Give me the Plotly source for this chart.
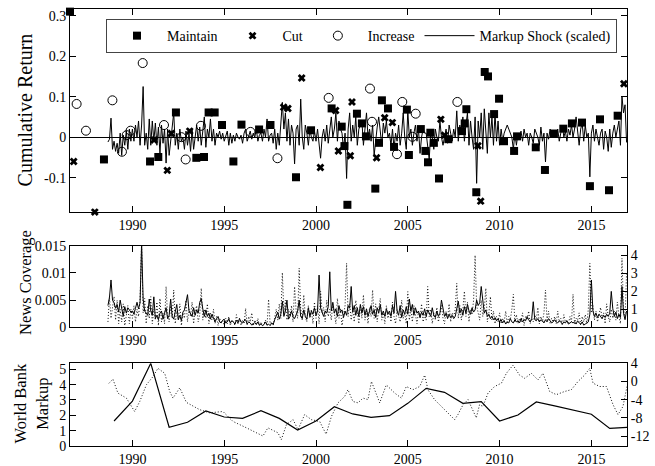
import plotly.graph_objects as go

FONT = "Liberation Serif"
XR = [1986.6, 2016.94]
YEAR_TICKS = [1990, 1995, 2000, 2005, 2010, 2015]

# ---------------- Panel 1: announcements (cumulative return) ----------------
maintain_x = [1986.6, 1988.45, 1990.96, 1991.41, 1992.37, 1993.48, 1993.9, 1994.15, 1994.48, 1994.88,
              1995.5, 1995.94, 1996.9, 1997.52, 1998.91, 1999.73, 2000.85, 2001.4, 2001.55, 2001.71,
              2002.23, 2002.5, 2002.72, 2003.23, 2003.43, 2003.59, 2003.92, 2004.25, 2004.95, 2005.06,
              2005.71, 2005.96, 2006.1, 2006.23, 2006.42, 2006.7, 2007.21, 2007.95, 2008.1, 2008.19,
              2008.73, 2009.19, 2009.37, 2009.7, 2009.97, 2010.24, 2010.79, 2010.95, 2011.97, 2012.47,
              2012.96, 2013.47, 2013.94, 2014.49, 2014.92, 2015.47, 2015.96, 2016.43]
maintain_y = [0.31, -0.055, -0.06, -0.049, 0.061, -0.051, -0.049, 0.061, 0.061, 0.03,
              -0.06, 0.031, 0.019, 0.03, -0.099, 0.017, 0.071, 0.026, -0.022, -0.167,
              0.058, 0.034, 0.002, -0.127, -0.014, 0.091, 0.071, -0.024, 0.068, -0.044,
              0.02, -0.034, -0.062, 0.011, -0.014, -0.102, -0.005, 0.015, 0.034, 0.069,
              -0.136, 0.161, 0.15, 0.057, 0.095, -0.01, -0.034, 0.002, -0.025, -0.081,
              0.009, 0.021, 0.034, 0.036, -0.121, 0.044, -0.131, 0.053]

cut_x = [1986.8, 1987.95, 1991.18, 1991.9, 1992.12, 1993.12, 1998.24, 1998.47, 1999.22, 2000.24,
         2001.07, 2001.22, 2001.87, 2001.96, 2003.3, 2003.74, 2004.16, 2006.8, 2007.0, 2008.82,
         2008.97, 2016.77, 2016.95]
cut_y = [-0.06, -0.185, -0.007, -0.082, 0.009, 0.015, 0.074, 0.071, 0.146, -0.075,
         0.066, -0.034, -0.046, 0.087, -0.051, 0.048, 0.036, 0.044, 0.005, -0.021,
         -0.158, 0.132, 0.076]

increase_x = [1986.96, 1987.47, 1988.91, 1989.43, 1989.69, 1989.9, 1990.56, 1991.72, 1992.67, 1992.9,
              1993.73, 1996.43, 1997.9, 2000.69, 2002.94, 2003.05, 2004.41, 2004.7, 2005.25, 2005.43,
              2007.7]
increase_y = [0.082, 0.016, 0.091, -0.036, 0.005, 0.016, 0.183, 0.03, 0.0, -0.055,
              0.028, 0.013, -0.052, 0.097, 0.12, 0.038, -0.042, 0.087, 0.001, 0.058,
              0.087]

# monthly series, starting September 1988
MONTHLY_START = 1988 + 8 / 12

markup_shock = [
    -0.012, -0.005, 0.047, -0.030,
    -0.010, -0.035, -0.015, -0.040, 0.010, -0.045, 0.005, -0.020, 0.015, -0.030, 0.020, -0.010,
    0.020, -0.010, 0.030, 0.000, 0.040, -0.020, 0.030, 0.125, -0.020, 0.010, -0.030, 0.045,
    -0.020, 0.040, -0.010, 0.035, -0.020, 0.025, -0.040, 0.030, -0.015, 0.020, -0.064, 0.020,
    -0.045, -0.010, 0.030, 0.060, -0.020, 0.010, -0.030, 0.020, -0.010, 0.000, -0.030, 0.015,
    -0.020, 0.010, -0.035, 0.020, -0.030, 0.005, 0.030, -0.010, 0.025, -0.020, 0.010, 0.050,
    -0.025, 0.020, 0.000, 0.045, -0.010, 0.020, -0.020, 0.010, 0.000, 0.015, -0.005, 0.010,
    -0.010, 0.005, 0.015, -0.020, 0.010, -0.015, 0.005, -0.010, 0.010, 0.000, -0.005, 0.005,
    -0.015, 0.010, 0.020, -0.010, 0.005, 0.015, -0.005, 0.010, 0.000, 0.020, -0.010, 0.005,
    0.010, -0.010, 0.020, 0.000, 0.045, -0.010, 0.005, 0.010, -0.015, 0.020, -0.030, 0.010,
    -0.020, 0.030, 0.086, 0.020, 0.060, -0.010, 0.045, -0.020, 0.030, 0.010, -0.066, 0.020,
    0.030, -0.020, 0.094, 0.000, -0.030, 0.030, 0.010, -0.020, 0.020, 0.000, -0.010, 0.015,
    -0.010, 0.020, -0.015, -0.052, 0.000, 0.020, -0.010, 0.030, -0.015, 0.020, 0.050, 0.000,
    0.020, 0.060, -0.010, 0.040, 0.020, 0.010, -0.030, 0.010, -0.102, 0.020, 0.060, -0.010,
    0.030, 0.000, 0.050, -0.020, 0.020, 0.030, 0.040, -0.020, 0.020, 0.060, 0.000, 0.020,
    -0.010, 0.030, -0.045, 0.000, 0.025, 0.050, 0.020, -0.020, 0.035, 0.010, 0.040, 0.000,
    0.010, -0.020, 0.020, -0.030, 0.010, -0.010, 0.030, -0.020, 0.010, 0.060, 0.000, -0.030,
    0.065, 0.000, 0.020, -0.020, 0.010, 0.030, -0.010, 0.020, -0.040, 0.000, 0.020, 0.010,
    0.010, -0.020, -0.055, 0.015, 0.000, -0.030, 0.020, 0.000, -0.010, 0.040, 0.000, -0.020,
    0.000, 0.020, -0.015, 0.030, 0.010, -0.010, 0.020, 0.000, 0.065, -0.010, 0.030, 0.010,
    0.050, -0.010, 0.030, 0.060, -0.020, 0.040, 0.000, -0.030, 0.050, -0.114, 0.040, 0.000,
    0.060, -0.030, 0.070, 0.020, -0.040, 0.060, 0.000, 0.050, -0.020, 0.060, -0.010, 0.040,
    -0.020, 0.020, -0.010, 0.010, 0.020, 0.030, 0.020, 0.010, 0.000, -0.030, 0.010, -0.020,
    0.010, 0.000, 0.015, -0.010, 0.020, 0.000, 0.010, -0.020, 0.010, 0.000, -0.015, 0.020,
    0.010, 0.000, -0.020, 0.025, -0.010, 0.010, -0.061, 0.010, -0.005, 0.020, 0.000, 0.010,
    0.015, 0.000, 0.020, -0.010, 0.010, 0.030, 0.000, 0.015, -0.010, 0.020, 0.005, 0.030,
    0.000, 0.020, 0.050, 0.010, -0.020, 0.020, 0.035, -0.010, 0.030, 0.000, 0.010, -0.098,
    0.010, 0.030, -0.010, 0.020, 0.000, -0.020, 0.010, 0.020, -0.030, 0.015, 0.000, -0.035,
    0.020, -0.025, 0.010, 0.030, 0.000, 0.020, 0.040, -0.020, 0.100, 0.060, 0.080, -0.013,
]

# ---------------- Panel 2: news coverage ----------------
news_main = [  # left axis
    0.0040, 0.0055, 0.0087, 0.0050,
    0.0045, 0.0035, 0.0042, 0.0028, 0.0050, 0.0032, 0.0020, 0.0038, 0.0026, 0.0036, 0.0032, 0.0028,
    0.0030, 0.0024, 0.0035, 0.0046, 0.0034, 0.0045, 0.0155, 0.0052, 0.0030, 0.0026, 0.0022, 0.0052,
    0.0030, 0.0022, 0.0056, 0.0016, 0.0022, 0.0014, 0.0026, 0.0030, 0.0015, 0.0026, 0.0036, 0.0016,
    0.0022, 0.0052, 0.0020, 0.0015, 0.0026, 0.0042, 0.0014, 0.0022, 0.0012, 0.0028, 0.0032, 0.0046,
    0.0060, 0.0030, 0.0024, 0.0020, 0.0036, 0.0022, 0.0032, 0.0026, 0.0046, 0.0053, 0.0034, 0.0020,
    0.0032, 0.0020, 0.0026, 0.0015, 0.0024, 0.0016, 0.0010, 0.0016, 0.0020, 0.0010, 0.0008, 0.0013,
    0.0015, 0.0008, 0.0010, 0.0016, 0.0008, 0.0012, 0.0010, 0.0006, 0.0013, 0.0008, 0.0016, 0.0010,
    0.0008, 0.0012, 0.0014, 0.0006, 0.0010, 0.0008, 0.0004, 0.0006, 0.0009, 0.0005, 0.0010, 0.0004,
    0.0006, 0.0003, 0.0005, 0.0010, 0.0004, 0.0006, 0.0003, 0.0008, 0.0005, 0.0014, 0.0020, 0.0028,
    0.0015, 0.0024, 0.0048, 0.0020, 0.0030, 0.0050, 0.0015, 0.0020, 0.0030, 0.0020, 0.0016, 0.0024,
    0.0030, 0.0050, 0.0020, 0.0016, 0.0032, 0.0020, 0.0015, 0.0036, 0.0020, 0.0030, 0.0024, 0.0036,
    0.0022, 0.0030, 0.0096, 0.0035, 0.0025, 0.0020, 0.0030, 0.0026, 0.0038, 0.0102, 0.0030, 0.0046,
    0.0026, 0.0034, 0.0020, 0.0040, 0.0028, 0.0032, 0.0018, 0.0030, 0.0022, 0.0040, 0.0035, 0.0075,
    0.0028, 0.0040, 0.0022, 0.0036, 0.0020, 0.0042, 0.0026, 0.0038, 0.0022, 0.0034, 0.0020, 0.0030,
    0.0040, 0.0024, 0.0032, 0.0018, 0.0036, 0.0026, 0.0042, 0.0022, 0.0030, 0.0020, 0.0034, 0.0024,
    0.0030, 0.0020, 0.0040, 0.0026, 0.0066, 0.0030, 0.0022, 0.0040, 0.0018, 0.0032, 0.0024, 0.0038,
    0.0024, 0.0052, 0.0030, 0.0042, 0.0022, 0.0036, 0.0026, 0.0030, 0.0018, 0.0028, 0.0022, 0.0034,
    0.0020, 0.0032, 0.0024, 0.0020, 0.0036, 0.0022, 0.0018, 0.0030, 0.0020, 0.0026, 0.0050, 0.0032,
    0.0020, 0.0026, 0.0016, 0.0024, 0.0018, 0.0022, 0.0016, 0.0020, 0.0032, 0.0048, 0.0026, 0.0034,
    0.0022, 0.0038, 0.0026, 0.0042, 0.0030, 0.0024, 0.0036, 0.0028, 0.0032, 0.0050, 0.0040, 0.0045,
    0.0075, 0.0046, 0.0026, 0.0032, 0.0020, 0.0024, 0.0016, 0.0020, 0.0014, 0.0018, 0.0012, 0.0016,
    0.0010, 0.0014, 0.0008, 0.0012, 0.0006, 0.0010, 0.0008, 0.0016, 0.0010, 0.0008, 0.0014, 0.0010,
    0.0012, 0.0008, 0.0016, 0.0010, 0.0014, 0.0012, 0.0020, 0.0014, 0.0010, 0.0016, 0.0047, 0.0014,
    0.0012, 0.0016, 0.0010, 0.0014, 0.0012, 0.0008, 0.0014, 0.0010, 0.0016, 0.0012, 0.0008, 0.0010,
    0.0014, 0.0010, 0.0008, 0.0012, 0.0010, 0.0006, 0.0010, 0.0008, 0.0012, 0.0006, 0.0008, 0.0010,
    0.0008, 0.0010, 0.0006, 0.0012, 0.0008, 0.0006, 0.0010, 0.0004, 0.0006, 0.0008, 0.0010, 0.0024,
    0.0087, 0.0030, 0.0020, 0.0026, 0.0018, 0.0024, 0.0020, 0.0016, 0.0022, 0.0018, 0.0024, 0.0020,
    0.0026, 0.0066, 0.0034, 0.0020, 0.0028, 0.0016, 0.0024, 0.0018, 0.0075, 0.0026, 0.0014, 0.0030,
]
news_other = [  # right axis
    0.3, 1.7, 0.5, 1.2,
    1.7, 0.4, 1.5, 0.2, 1.0, 0.3, 1.3, 0.1, 0.8, 1.2, 0.2, 1.0,
    0.5, 1.2, 0.3, 1.0, 0.6, 1.5, 4.6, 0.8, 1.6, 0.2, 1.2, 0.5,
    1.7, 0.2, 1.0, 0.4, 1.4, 0.1, 1.6, 0.3, 0.8, 0.2, 2.26, 0.6,
    0.3, 1.2, 0.5, 2.07, 0.2, 0.9, 0.4, 1.3, 0.1, 0.8, 0.5, 1.5,
    0.3, 1.0, 0.6, 1.4, 0.2, 0.9, 1.2, 0.3, 0.7, 2.17, 0.4, 1.0,
    0.5, 1.3, 0.2, 0.8, 0.4, 1.0, 0.2, 0.6, 0.1, 0.5, 0.3, 0.4,
    0.1, 0.5, 0.2, 0.6, 0.1, 0.4, 0.3, 0.1, 0.7, 0.2, 0.5, 0.1,
    0.4, 0.2, 1.05, 0.1, 0.6, 0.3, 0.8, 0.1, 0.4, 0.2, 0.5, 0.1,
    0.3, 0.1, 0.2, 0.4, 0.1, 1.55, 0.2, 0.3, 0.1, 0.6, 1.0, 0.4,
    1.3, 0.5, 3.03, 0.8, 1.5, 0.4, 1.0, 0.6, 1.2, 0.3, 2.26, 0.9,
    0.5, 3.28, 1.0, 0.4, 1.8, 0.6, 0.3, 1.2, 0.5, 1.0, 0.2, 1.4,
    0.5, 1.2, 0.2, 2.0, 0.8, 1.1, 0.3, 1.5, 0.6, 1.0, 0.4, 1.3,
    0.8, 0.2, 1.6, 0.5, 1.0, 0.1, 0.7, 1.2, 3.55, 0.6, 1.3, 0.4,
    1.0, 0.3, 1.5, 0.7, 0.2, 1.2, 0.5, 1.8, 0.4, 0.9, 0.2, 1.1,
    0.6, 2.07, 0.5, 1.3, 0.3, 1.0, 1.6, 0.4, 0.8, 0.2, 1.2, 0.5,
    0.9, 0.3, 1.4, 0.6, 0.2, 1.0, 0.7, 0.3, 1.5, 0.5, 0.8, 0.2,
    1.98, 0.4, 1.0, 0.3, 1.2, 0.6, 0.2, 0.9, 0.5, 1.3, 0.3, 0.7,
    0.4, 2.26, 0.6, 1.0, 0.2, 0.8, 0.4, 1.1, 0.3, 0.7, 1.2, 0.5,
    0.2, 0.9, 0.5, 1.3, 0.3, 0.8, 0.6, 1.0, 2.44, 0.5, 1.2, 0.4,
    1.0, 2.0, 0.6, 1.4, 0.3, 1.0, 0.7, 1.5, 4.0, 1.2, 0.8, 0.4,
    1.5, 0.6, 1.0, 2.17, 0.3, 0.8, 1.7, 0.4, 0.9, 0.2, 0.6, 0.3,
    0.8, 0.2, 0.5, 0.3, 0.9, 0.2, 0.6, 0.4, 1.0, 1.83, 0.3, 0.7,
    0.2, 0.5, 0.3, 0.8, 0.1, 0.6, 0.4, 0.9, 0.2, 0.5, 0.3, 0.7,
    0.4, 1.1, 0.2, 0.6, 0.3, 0.8, 2.07, 0.4, 0.9, 0.2, 0.5, 0.3,
    0.6, 0.2, 0.9, 0.3, 0.5, 0.1, 0.7, 0.3, 0.4, 0.2, 0.6, 0.3,
    1.83, 0.2, 0.5, 0.4, 0.8, 0.1, 0.6, 0.3, 0.7, 0.2, 1.0, 3.55,
    0.8, 1.2, 0.4, 0.9, 0.3, 0.7, 1.1, 0.5, 0.8, 0.2, 1.3, 0.6,
    0.3, 1.0, 0.5, 0.9, 0.4, 1.4, 0.6, 0.2, 3.83, 1.0, 0.5, 3.0,
]

# ---------------- Panel 3: World Bank markup ----------------
wb_years = [1989, 1990, 1991, 1992, 1993, 1994, 1995, 1996, 1997, 1998, 1999, 2000, 2001, 2002, 2003,
            2004, 2005, 2006, 2007, 2008, 2009, 2010, 2011, 2012, 2013, 2014, 2015, 2016, 2017]
wb_markup = [1.63, 2.93, 5.39, 1.22, 1.55, 2.28, 1.89, 1.80, 2.30, 1.80, 1.04, 1.63, 2.56, 2.09, 1.87,
             1.98, 2.78, 3.76, 3.50, 2.78, 2.89, 1.63, 2.02, 2.87, 2.62, 2.35, 2.07, 1.15, 1.22]

other_x = [1988.72, 1988.94, 1989.21, 1989.67, 1990.12, 1990.4, 1990.76, 1991.12, 1991.39, 1991.76,
           1992.03, 1992.21, 1992.58, 1992.94, 1993.66, 1994.21, 1994.93, 1995.48, 1996.21, 1997.11,
           1997.38, 1997.93, 1998.11, 1998.39, 1998.75, 1999.02, 1999.38, 1999.75, 2000.2, 2000.55,
           2000.84, 2001.2, 2001.56, 2001.74, 2002.01, 2002.29, 2002.56, 2002.83, 2003.02, 2003.29,
           2003.47, 2003.83, 2004.29, 2004.65, 2004.92, 2005.28, 2005.65, 2005.92, 2006.1, 2006.46,
           2006.92, 2007.28, 2007.55, 2007.73, 2008.01, 2008.28, 2008.55, 2008.73, 2008.91, 2009.09,
           2009.37, 2009.73, 2010.1, 2010.37, 2010.73, 2011.09, 2011.37, 2011.73, 2012.09, 2012.36,
           2012.73, 2013.09, 2013.54, 2013.91, 2014.27, 2014.63, 2014.91, 2015.09, 2015.45, 2015.82,
           2016.18, 2016.45, 2016.72, 2016.94]
other_y = [-0.4, 0.5, -2.56, -3.65, -6.6, -4.4, -0.74, 1.07, 2.9, 1.8,
           -2.2, -3.65, -1.4, -4.6, -6.2, -6.9, -6.6, -8.8, -10.2, -12.0,
           -10.2, -11.3, -12.8, -9.5, -8.4, -10.6, -7.3, -8.4, -8.8, -11.6,
           -7.7, -4.7, -3.3, -1.8, -4.4, -4.7, -3.65, -4.0, 0.0, -2.9,
           -4.7, -0.74, -2.56, -3.65, -1.1, -1.8, -1.1, 1.4, -1.84, -4.0,
           -5.8, -7.3, -8.4, -7.3, -5.1, -4.0, -6.6, -8.0, -5.1, -5.5,
           -2.56, -1.1, -0.37, 1.8, 3.6, 1.4, 0.7, 1.8, 0.35, 1.8,
           -2.2, -2.9, -2.2, -1.8, 0.0, 1.4, 2.9, -0.37, -1.1, -1.1,
           -5.1, -7.3, -5.5, -1.1]

monthly_x = [MONTHLY_START + i / 12 for i in range(len(markup_shock))]
news_x = [MONTHLY_START + i / 12 for i in range(len(news_main))]
news_x2 = [MONTHLY_START + i / 12 for i in range(len(news_other))]

BLACK = "#000000"
DOTS = "1px,2px"
fig = go.Figure()

# Panel 1
fig.add_trace(go.Scatter(x=monthly_x, y=markup_shock, mode="lines", name="Markup Shock (scaled)",
                         line=dict(color=BLACK, width=1), xaxis="x", yaxis="y", legendrank=4))
fig.add_trace(go.Scatter(x=maintain_x, y=maintain_y, mode="markers", name="Maintain",
                         marker=dict(symbol="square", size=8, color=BLACK), cliponaxis=False,
                         xaxis="x", yaxis="y", legendrank=1))
fig.add_trace(go.Scatter(x=cut_x, y=cut_y, mode="markers", name="Cut",
                         marker=dict(symbol="x", size=7, color=BLACK), cliponaxis=False,
                         xaxis="x", yaxis="y", legendrank=2))
fig.add_trace(go.Scatter(x=increase_x, y=increase_y, mode="markers", name="Increase",
                         marker=dict(symbol="circle-open", size=9, color=BLACK, line=dict(width=1)),
                         cliponaxis=False, xaxis="x", yaxis="y", legendrank=3))

# Panel 2
fig.add_trace(go.Scatter(x=news_x2, y=news_other, mode="lines", showlegend=False,
                         line=dict(color="#111111", width=1, dash=DOTS), xaxis="x2", yaxis="y4"))
fig.add_trace(go.Scatter(x=news_x, y=news_main, mode="lines", showlegend=False,
                         line=dict(color=BLACK, width=1), xaxis="x2", yaxis="y2"))

# Panel 3
fig.add_trace(go.Scatter(x=other_x, y=other_y, mode="lines", showlegend=False,
                         line=dict(color="#111111", width=1, dash=DOTS), xaxis="x3", yaxis="y5"))
fig.add_trace(go.Scatter(x=wb_years, y=wb_markup, mode="lines", showlegend=False,
                         line=dict(color=BLACK, width=1.2), xaxis="x3", yaxis="y3"))

TICKFONT = dict(family=FONT, size=14, color=BLACK)
common_x = dict(range=XR, tickvals=YEAR_TICKS, ticktext=[str(v) for v in YEAR_TICKS],
                ticks="inside", ticklen=6, tickcolor=BLACK, showline=True, linecolor=BLACK,
                linewidth=1, mirror="ticks", showgrid=False, zeroline=False, tickfont=TICKFONT,
                automargin=False)
common_y = dict(ticks="inside", ticklen=6, tickcolor=BLACK, showline=True, linecolor=BLACK,
                linewidth=1, showgrid=False, tickfont=TICKFONT, automargin=False)

D1 = [0.5348, 1.0]
D2 = [0.2716, 0.4584]
D3 = [0.0, 0.1892]

fig.update_layout(
    template="none",
    width=655, height=466,
    margin=dict(l=70, r=28, t=9, b=20, autoexpand=False),
    paper_bgcolor="white", plot_bgcolor="white",
    font=dict(family=FONT, size=14, color=BLACK),
    xaxis=dict(common_x, anchor="y"),
    xaxis2=dict(common_x, anchor="y2"),
    xaxis3=dict(common_x, anchor="y3"),
    yaxis=dict(common_y, domain=D1, range=[-0.1855, 0.3165], mirror="ticks",
               tickvals=[-0.1, 0, 0.1, 0.2, 0.3], ticktext=["-0.1", "0", "0.1", "0.2", "0.3"],
               zeroline=True, zerolinecolor=BLACK, zerolinewidth=1),
    yaxis2=dict(common_y, domain=D2, range=[0, 0.015], anchor="x2", zeroline=False,
                tickvals=[0, 0.005, 0.01, 0.015], ticktext=["0", "0.005", "0.01", "0.015"]),
    yaxis4=dict(common_y, overlaying="y2", side="right", anchor="x2", range=[0, 4.53],
                zeroline=False, tickvals=[0, 1, 2, 3, 4], ticktext=["0", "1", "2", "3", "4"]),
    yaxis3=dict(common_y, domain=D3, range=[0, 5.39], anchor="x3", zeroline=False,
                tickvals=[0, 1, 2, 3, 4, 5], ticktext=["0", "1", "2", "3", "4", "5"]),
    yaxis5=dict(common_y, overlaying="y3", side="right", anchor="x3", range=[-14.2, 4.0],
                zeroline=False, tickvals=[-12, -8, -4, 0, 4], ticktext=["-12", "-8", "-4", "0", "4"]),
    legend=dict(orientation="h", x=0.0646, y=0.977, xanchor="left", yanchor="top",
                bgcolor="white", bordercolor="#444444", borderwidth=1, itemwidth=50,
                font=dict(family=FONT, size=14, color=BLACK), traceorder="normal"),
    showlegend=True,
)

fig.add_annotation(text="Cumulative Return", xref="paper", yref="paper", x=-0.081, y=0.77,
                   textangle=-90, showarrow=False, xanchor="center", yanchor="middle",
                   font=dict(family=FONT, size=20, color=BLACK))
fig.add_annotation(text="News Coverage", xref="paper", yref="paper", x=-0.081, y=0.375,
                   textangle=-90, showarrow=False, xanchor="center", yanchor="middle",
                   font=dict(family=FONT, size=16.5, color=BLACK))
fig.add_annotation(text="World Bank<br>Markup", xref="paper", yref="paper", x=-0.07, y=0.097,
                   textangle=-90, showarrow=False, xanchor="center", yanchor="middle",
                   font=dict(family=FONT, size=16.5, color=BLACK))

fig.write_html("out.html")
